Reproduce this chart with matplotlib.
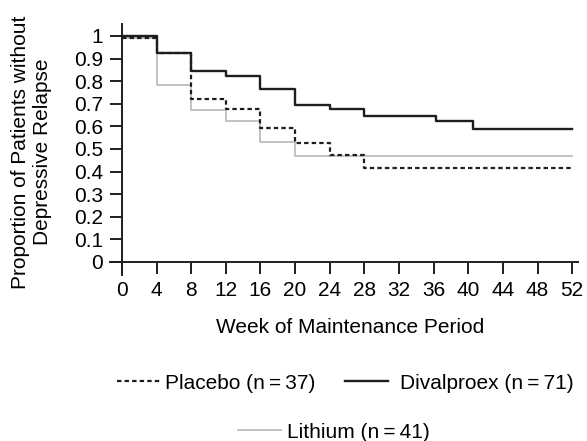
import numpy as np
import matplotlib
matplotlib.use('Agg')
import matplotlib.pyplot as plt
from matplotlib.lines import Line2D

plt.rcParams['font.family'] = ['Liberation Sans', 'DejaVu Sans']
plt.rcParams['font.size'] = 15

# Kaplan-Meier style steps
placebo_weeks = [0, 4, 8, 12, 16, 20, 24, 28, 52]
placebo_surv = [0.99, 0.923, 0.719, 0.677, 0.594, 0.527, 0.475, 0.415, 0.415]

divalproex_weeks = [0, 4, 8, 12, 16, 20, 24, 28, 36.3, 40.5, 52]
divalproex_surv = [1.0, 0.923, 0.846, 0.824, 0.765, 0.694, 0.676, 0.645, 0.622, 0.59, 0.59]

lithium_weeks = [0, 4, 8, 12, 16, 20, 52]
lithium_surv = [0.99, 0.783, 0.672, 0.625, 0.529, 0.47, 0.47]

labels = ['Placebo (n\u2009=\u200937)', 'Divalproex (n\u2009=\u200971)', 'Lithium (n\u2009=\u200941)']
x_ticks = np.arange(0, 53, 4)
y_ticks = np.round(np.arange(0, 1.01, 0.1), 1)
y_ticklabels = ['0'] + ['%.1f' % v for v in y_ticks[1:-1]] + ['1']

dark = '#1e1e1e'
grey = '#bdbdbd'

fig = plt.figure(figsize=(5.87, 4.41), dpi=100)
ax = fig.add_axes([0.1874, 0.3764, 0.797, 0.5692])

ax.step(lithium_weeks, lithium_surv, where='post', color=grey, lw=1.3)
ax.step(divalproex_weeks, divalproex_surv, where='post', color=dark, lw=1.7)
ax.step(placebo_weeks, placebo_surv, where='post', color=dark, lw=1.6,
        dashes=(2.0, 1.4))

ax.set_xlim(-1.37, 52.65)
ax.set_ylim(-0.058, 1.053)
ax.spines['left'].set_position(('data', 0))
ax.spines['bottom'].set_position(('data', 0))
ax.spines['top'].set_visible(False)
ax.spines['right'].set_visible(False)
for s in ('left', 'bottom'):
    ax.spines[s].set_linewidth(1.4)
    ax.spines[s].set_color(dark)

ax.set_xticks(x_ticks)
ax.set_yticks(y_ticks)
ax.set_yticklabels(y_ticklabels)
ax.tick_params(direction='out', length=8.5, width=1.4, color=dark)
ax.tick_params(axis='x', pad=5)
ax.tick_params(axis='y', pad=5)

fig.text(0.596, 0.246, 'Week of Maintenance Period', ha='center', va='baseline')
fig.text(0.0545, 0.655, 'Proportion of Patients without\nDepressive Relapse',
         rotation=90, ha='center', va='center', linespacing=1.2)

h1 = Line2D([], [], color=dark, lw=1.6, dashes=(2.0, 1.4))
h2 = Line2D([], [], color=dark, lw=1.7)
h3 = Line2D([], [], color=grey, lw=1.3)

common = dict(loc='center left', frameon=False, borderpad=0, borderaxespad=0,
              handlelength=2.06)
fig.legend([h1], labels[:1], bbox_to_anchor=(0.1993, 0.1315),
           handletextpad=0.24, **common)
fig.legend([h2], labels[1:2], bbox_to_anchor=(0.5877, 0.1315),
           handletextpad=0.57, **common)
fig.legend([h3], labels[2:], bbox_to_anchor=(0.4055, 0.0204),
           handletextpad=0.29, **common)

fig.savefig('out.png', dpi=100)
